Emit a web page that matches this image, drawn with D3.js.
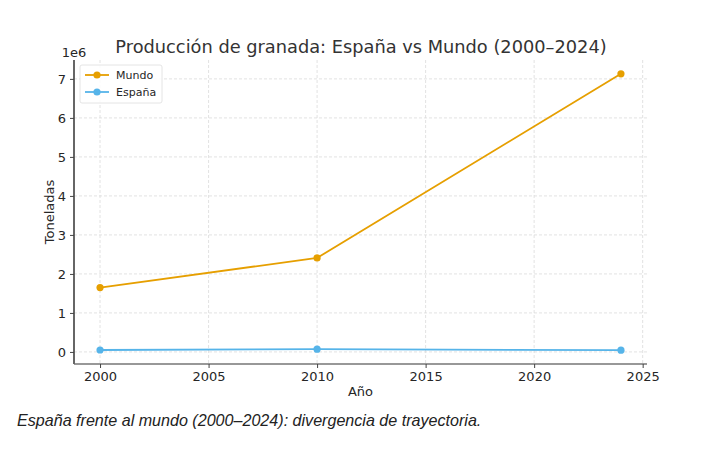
<!DOCTYPE html>
<html>
<head>
<meta charset="utf-8">
<script src="https://cdn.jsdelivr.net/npm/d3@7"></script>
<style>
  body { margin: 0; background: #fff; }
  svg text { font-family: "DejaVu Sans", sans-serif; fill: #262626; }
  .caption { font-family: "Liberation Sans", Arial, sans-serif; font-style: italic; }
</style>
</head>
<body>
<div id="chart"></div>
<script>
// datos
var years = [2000, 2010, 2024];
var mundo = [1650000, 2410000, 7130000];
var espana = [50000, 70000, 45000];
var xTicks = [2000, 2005, 2010, 2015, 2020, 2025];
var yTicks = [0, 1, 2, 3, 4, 5, 6, 7];

var series = [
	{name: "Mundo", values: mundo, color: "#E69F00"},
	{name: "España", values: espana, color: "#56B4E9"}
];

var W = 701, H = 461;
var margin = {top: 60, right: 54, bottom: 97, left: 74};
var width = W - margin.left - margin.right;
var height = H - margin.top - margin.bottom;

var svg = d3.select("#chart").append("svg")
	.attr("width", W)
	.attr("height", H);

var g = svg.append("g")
	.attr("transform", "translate(" + margin.left + "," + margin.top + ")");

var xr = 2024 - 2000;
var x = d3.scaleLinear().domain([2000 - xr * 0.05, 2024 + xr * 0.05]).range([0, width]);
var ymin = d3.min(espana), ymax = d3.max(mundo), yr = ymax - ymin;
var y = d3.scaleLinear().domain([ymin - yr * 0.05, ymax + yr * 0.05]).range([height, 0]);

// grid
g.selectAll(".gx").data(xTicks).enter().append("line")
	.attr("x1", d => x(d)).attr("x2", d => x(d))
	.attr("y1", 0).attr("y2", height)
	.attr("stroke", "#dadada").attr("stroke-width", 0.8).attr("stroke-dasharray", "3,2");
g.selectAll(".gy").data(yTicks).enter().append("line")
	.attr("x1", 0).attr("x2", width)
	.attr("y1", d => y(d * 1e6)).attr("y2", d => y(d * 1e6))
	.attr("stroke", "#dadada").attr("stroke-width", 0.8).attr("stroke-dasharray", "3,2");

// ejes
var xAxis = g.append("g")
	.attr("transform", "translate(0," + height + ")")
	.call(d3.axisBottom(x).tickValues(xTicks).tickFormat(d3.format("d")).tickSize(4).tickPadding(4));
var yAxis = g.append("g")
	.call(d3.axisLeft(y).tickValues(yTicks.map(d => d * 1e6)).tickFormat(d => d / 1e6).tickSize(4).tickPadding(4));

[xAxis, yAxis].forEach(function(a) {
	a.selectAll("text").style("font-size", "13px").style("font-family", "DejaVu Sans").attr("fill", "#262626");
	a.selectAll(".tick line").attr("stroke", "#444");
	a.select(".domain").attr("d", null);
});
xAxis.select(".domain").attr("d", "M0,0H" + width).attr("stroke", "#333").attr("stroke-width", 1.2);
yAxis.select(".domain").attr("d", "M0,0V" + height).attr("stroke", "#666").attr("stroke-width", 2);

// lineas
var line = d3.line().x((d, i) => x(years[i])).y(d => y(d));
series.forEach(function(s) {
	g.append("path").datum(s.values)
		.attr("d", line)
		.attr("fill", "none")
		.attr("stroke", s.color)
		.attr("stroke-width", 1.8);
	g.selectAll(null).data(s.values).enter().append("circle")
		.attr("cx", (d, i) => x(years[i]))
		.attr("cy", d => y(d))
		.attr("r", 3.6)
		.attr("fill", s.color);
});

// textos
svg.append("text").attr("x", 361).attr("y", 53)
	.attr("text-anchor", "middle").style("font-size", "17.8px").style("fill", "#333")
	.text("Producción de granada: España vs Mundo (2000–2024)");
svg.append("text").attr("x", margin.left).attr("y", 57)
	.attr("text-anchor", "middle").style("font-size", "13px").text("1e6");
svg.append("text").attr("x", margin.left + width / 2).attr("y", 396)
	.attr("text-anchor", "middle").style("font-size", "13px").text("Año");
svg.append("text")
	.attr("transform", "translate(54," + (margin.top + height / 2) + ") rotate(-90)")
	.attr("text-anchor", "middle").style("font-size", "13px").text("Toneladas");

// leyenda
var leg = g.append("g").attr("transform", "translate(6,5)");
leg.append("rect").attr("width", 82).attr("height", 38).attr("rx", 2)
	.attr("fill", "#fff").attr("fill-opacity", 0.85)
	.attr("stroke", "#ddd").attr("stroke-width", 0.8);
series.forEach(function(s, i) {
	var yy = 10 + i * 17;
	leg.append("line").attr("x1", 5).attr("x2", 29).attr("y1", yy).attr("y2", yy)
		.attr("stroke", s.color).attr("stroke-width", 1.8);
	leg.append("circle").attr("cx", 17).attr("cy", yy).attr("r", 3.6).attr("fill", s.color);
	leg.append("text").attr("x", 36).attr("y", yy + 4).style("font-size", "11px").text(s.name);
});

svg.append("text").attr("class", "caption").attr("x", 17).attr("y", 426)
	.style("font-size", "16.1px").style("fill", "#222")
	.text("España frente al mundo (2000–2024): divergencia de trayectoria.");
</script>
</body>
</html>
